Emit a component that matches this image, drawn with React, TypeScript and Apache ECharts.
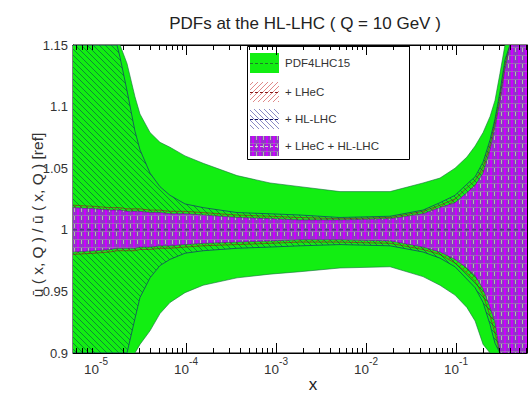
import React, { useEffect, useRef } from 'react';
import * as echarts from 'echarts';

// x grid (momentum fraction)
const X = [5.55e-6, 9.7e-6, 1.43e-5, 1.71e-5, 1.85e-5, 2.21e-5, 2.71e-5, 3.08e-5, 3.98e-5, 5.14e-5, 6.64e-5, 9.75e-5, 1.55e-4, 3.69e-4, 8.58e-4, 1.85e-3, 5.14e-3, 1.85e-2, 4.3e-2, 6.64e-2, 9.75e-2, 0.132, 0.163, 0.2, 0.239, 0.271, 0.308, 0.35, 0.398, 0.453, 0.615];

const pdf4lhcHi = [1.30, 1.24, 1.19, 1.165, 1.15, 1.135, 1.108, 1.094, 1.079, 1.071, 1.067, 1.06, 1.054, 1.044, 1.038, 1.035, 1.031, 1.031, 1.038, 1.042, 1.050, 1.059, 1.068, 1.079, 1.092, 1.105, 1.127, 1.16, 1.2, 1.25, 1.35];
const pdf4lhcLo = [0.72, 0.78, 0.83, 0.85, 0.86, 0.88, 0.90, 0.907, 0.918, 0.932, 0.941, 0.949, 0.955, 0.961, 0.964, 0.966, 0.969, 0.970, 0.962, 0.955, 0.947, 0.937, 0.926, 0.907, 0.89, 0.87, 0.84, 0.8, 0.76, 0.72, 0.65];

const lhecHi = [1.020, 1.019, 1.018, 1.018, 1.018, 1.017, 1.017, 1.017, 1.016, 1.016, 1.015, 1.015, 1.014, 1.012, 1.011, 1.010, 1.009, 1.010, 1.015, 1.020, 1.025, 1.034, 1.040, 1.051, 1.069, 1.087, 1.108, 1.134, 1.155, 1.19, 1.28];
const lhecLo = [0.980, 0.981, 0.982, 0.983, 0.983, 0.983, 0.983, 0.984, 0.984, 0.985, 0.985, 0.986, 0.987, 0.988, 0.989, 0.990, 0.990, 0.989, 0.984, 0.980, 0.973, 0.965, 0.958, 0.947, 0.930, 0.916, 0.895, 0.87, 0.84, 0.81, 0.74];

const hllhcHi = [1.29, 1.23, 1.175, 1.15, 1.14, 1.113, 1.08, 1.065, 1.046, 1.035, 1.028, 1.021, 1.018, 1.014, 1.013, 1.012, 1.010, 1.011, 1.016, 1.022, 1.028, 1.037, 1.043, 1.055, 1.073, 1.09, 1.112, 1.138, 1.16, 1.2, 1.3];
const hllhcLo = [0.73, 0.79, 0.835, 0.855, 0.87, 0.90, 0.928, 0.945, 0.961, 0.971, 0.976, 0.981, 0.983, 0.985, 0.986, 0.987, 0.988, 0.987, 0.982, 0.977, 0.970, 0.960, 0.953, 0.941, 0.923, 0.908, 0.89, 0.86, 0.83, 0.8, 0.72];

const bothHi = [1.018, 1.017, 1.016, 1.016, 1.016, 1.015, 1.015, 1.015, 1.014, 1.014, 1.013, 1.013, 1.012, 1.010, 1.009, 1.008, 1.008, 1.009, 1.013, 1.018, 1.022, 1.030, 1.036, 1.046, 1.065, 1.083, 1.104, 1.13, 1.15, 1.18, 1.25];
const bothLo = [0.982, 0.983, 0.984, 0.985, 0.985, 0.985, 0.985, 0.986, 0.986, 0.987, 0.987, 0.988, 0.989, 0.990, 0.991, 0.992, 0.992, 0.991, 0.986, 0.982, 0.976, 0.969, 0.963, 0.952, 0.937, 0.925, 0.90, 0.88, 0.85, 0.82, 0.75];

const central = [1, 1];

const X_MIN = 5.55e-6;
const X_MAX = 0.615;
const Y_MIN = 0.9;
const Y_MAX = 1.15;
const Y_TICK = 0.05;

const MINOR_MANTISSA = [2, 3, 4, 5, 6, 7, 8, 9];
const DECADES = [1e-6, 1e-5, 1e-4, 1e-3, 1e-2, 1e-1];

const legendLabels = ['PDF4LHC15', '+ LHeC', '+ HL-LHC', '+ LHeC + HL-LHC'];
const TITLE = 'PDFs at the HL-LHC ( Q = 10 GeV )';
const Y_NAME = 'ū ( x, Q ) / ū ( x, Q ) [ref]';
const X_NAME = 'x';

const FONT = '"Liberation Sans", Arial, Helvetica, sans-serif';
const GREEN = '#12ee12';

function hatch(color: string, dir: 'back' | 'fwd', size = 6, lw = 1, bg?: string) {
  const c = document.createElement('canvas');
  c.width = size;
  c.height = size;
  const g = c.getContext('2d')!;
  if (bg) {
    g.fillStyle = bg;
    g.fillRect(0, 0, size, size);
  }
  g.strokeStyle = color;
  g.lineWidth = lw;
  g.beginPath();
  if (dir === 'back') {
    g.moveTo(-1, -1); g.lineTo(size + 1, size + 1);
    g.moveTo(-1, size - 1); g.lineTo(1, size + 1);
    g.moveTo(size - 1, -1); g.lineTo(size + 1, 1);
  } else {
    g.moveTo(-1, size + 1); g.lineTo(size + 1, -1);
    g.moveTo(-1, 1); g.lineTo(1, -1);
    g.moveTo(size - 1, size + 1); g.lineTo(size + 1, size - 1);
  }
  g.stroke();
  return { image: c, repeat: 'repeat' } as any;
}

function purplePattern() {
  const w = 7, h = 8;
  const c = document.createElement('canvas');
  c.width = w;
  c.height = h;
  const g = c.getContext('2d')!;
  g.fillStyle = '#9630cc';
  g.fillRect(0, 0, w, h);
  g.fillStyle = '#cc00ff';
  g.fillRect(0, 0, 2, h);
  g.fillStyle = 'rgba(170,205,160,0.95)';
  g.fillRect(4, 0, 1, 4);
  g.fillStyle = 'rgba(150,180,150,0.45)';
  g.fillRect(0, 7, w, 1);
  return { image: c, repeat: 'repeat' } as any;
}

function bandSeries(name: string, lo: number[], hi: number[], fill: any, stroke: string, z: number, lw = 0.9) {
  return {
    type: 'custom',
    name,
    coordinateSystem: 'cartesian2d',
    clip: true,
    z,
    silent: true,
    data: X.map((x, i) => [x, lo[i], hi[i]]),
    encode: { x: 0, y: [1, 2] },
    renderItem: (params: any, api: any) => {
      if (params.dataIndex !== 0) return null;
      const cs = params.coordSys;
      const rect = { x: cs.x, y: cs.y, width: cs.width, height: cs.height };
      const n = params.dataInsideLength;
      const up: number[][] = [];
      const dn: number[][] = [];
      for (let i = 0; i < n; i++) {
        const xv = api.value(0, i);
        up.push(api.coord([xv, api.value(2, i)]));
        dn.push(api.coord([xv, api.value(1, i)]));
      }
      const poly = echarts.graphic.clipPointsByRect(up.concat(dn.slice().reverse()), rect);
      return {
        type: 'group',
        children: [
          { type: 'polygon', shape: { points: poly }, style: { fill, stroke: 'none' } },
          { type: 'polyline', shape: { points: echarts.graphic.clipPointsByRect(up, rect) }, style: { fill: 'none', stroke, lineWidth: lw } },
          { type: 'polyline', shape: { points: echarts.graphic.clipPointsByRect(dn, rect) }, style: { fill: 'none', stroke, lineWidth: lw } },
        ],
      };
    },
  };
}

export default function App() {
  const ref = useRef<HTMLDivElement>(null);
  useEffect(() => {
    document.body.style.margin = '0';
    const chart = echarts.init(ref.current!, null, { renderer: 'svg' });

    const greenFill = GREEN;
    const redHatch = hatch('rgba(190,20,20,0.55)', 'fwd', 6, 1);
    const blueHatch = hatch('rgba(10,60,80,0.55)', 'back', 6, 1);
    const purple = purplePattern();

    const minorTicks: number[][] = [];
    DECADES.forEach((d) => MINOR_MANTISSA.forEach((m) => {
      const v = m * d;
      if (v > X_MIN && v < X_MAX) minorTicks.push([v, 1]);
    }));

    const xLabel = (v: number) => {
      const e = Math.log10(v);
      const r = Math.round(e);
      if (Math.abs(e - r) > 0.01) return '';
      return '{b|10}{s|' + r + '}';
    };

    const legendX = 247, legendY = 46, legendW = 162, legendH = 113;
    const rowsY = [63, 92, 119, 146];
    const swFills = [greenFill, hatch('rgba(200,40,40,0.55)', 'fwd', 5, 1), hatch('rgba(40,40,150,0.55)', 'back', 5, 1), purple];
    const dashColors = ['#1d7a2a', '#8a1a1a', '#101060', 'rgba(220,220,220,0.9)'];

    const legendChildren: any[] = [
      { type: 'rect', shape: { x: legendX + 0.5, y: legendY + 0.5, width: legendW, height: legendH }, style: { fill: '#fff', stroke: '#000', lineWidth: 1 } },
    ];
    legendLabels.forEach((lab, i) => {
      const cy = rowsY[i];
      legendChildren.push({ type: 'rect', shape: { x: 250, y: cy - 10, width: 29, height: 20 }, style: { fill: swFills[i] } });
      legendChildren.push({ type: 'line', shape: { x1: 250, y1: cy + 0.5, x2: 279, y2: cy + 0.5 }, style: { stroke: dashColors[i], lineWidth: 1, lineDash: [3, 2] } });
      legendChildren.push({ type: 'text', style: { x: 285, y: cy, text: lab, fill: '#333', font: '11.5px ' + FONT, verticalAlign: 'middle' } });
    });

    const option: any = {
      animation: false,
      backgroundColor: '#fff',
      title: {
        text: TITLE,
        left: 300,
        textAlign: 'center',
        top: 10,
        textStyle: { fontFamily: FONT, fontSize: 17, fontWeight: 'normal', color: '#222' },
      },
      grid: { left: 73, right: 2, top: 45, bottom: 40, show: true, borderColor: '#000', borderWidth: 1, backgroundColor: 'transparent', outerBoundsMode: 'none', containLabel: false },
      xAxis: [
        {
          type: 'log', min: X_MIN, max: X_MAX, logBase: 10,
          name: X_NAME, nameLocation: 'middle', nameGap: 23, nameMoveOverlap: false,
          nameTextStyle: { fontFamily: FONT, fontSize: 17, color: '#222', padding: [0, 0, 0, 26] },
          axisLine: { show: true, lineStyle: { color: '#000', width: 1 } },
          axisTick: { show: true, inside: true, length: 10, lineStyle: { color: '#000' } },
          minorTick: { show: false },
          splitLine: { show: false },
          axisLabel: {
            show: true, margin: 3, showMinLabel: false, showMaxLabel: false,
            formatter: xLabel,
            rich: {
              b: { fontFamily: FONT, fontSize: 13.5, color: '#333', lineHeight: 20, verticalAlign: 'bottom' },
              s: { fontFamily: FONT, fontSize: 10, color: '#333', lineHeight: 8, verticalAlign: 'top' },
            },
          },
        },
        {
          type: 'log', min: X_MIN, max: X_MAX, logBase: 10, position: 'top',
          axisLine: { show: true, lineStyle: { color: '#000', width: 1 } },
          axisTick: { show: true, inside: true, length: 10, lineStyle: { color: '#000' } },
          axisLabel: { show: false },
          splitLine: { show: false },
        },
      ],
      yAxis: [
        {
          type: 'value', min: Y_MIN, max: Y_MAX, interval: Y_TICK,
          axisLine: { show: true, lineStyle: { color: '#000', width: 1 } },
          axisTick: { show: true, inside: true, length: 6, lineStyle: { color: '#000' } },
          minorTick: { show: true, splitNumber: 3, length: 3, lineStyle: { color: '#000' } },
          splitLine: { show: false },
          axisLabel: {
            margin: 5, fontFamily: FONT, fontSize: 13, color: '#333',
            formatter: (v: number) => String(+v.toFixed(2)),
          },
        },
        {
          type: 'value', min: Y_MIN, max: Y_MAX, interval: Y_TICK, position: 'right',
          axisLine: { show: true, lineStyle: { color: '#000', width: 1 } },
          axisTick: { show: true, inside: true, length: 6, lineStyle: { color: '#000' } },
          minorTick: { show: true, splitNumber: 3, length: 3, lineStyle: { color: '#000' } },
          splitLine: { show: false },
          axisLabel: { show: false },
        },
      ],
      series: [
        bandSeries('PDF4LHC15', pdf4lhcLo, pdf4lhcHi, greenFill, 'rgba(20,110,60,0.75)', 1, 0.8),
        bandSeries('+ LHeC', lhecLo, lhecHi, redHatch, 'rgba(150,30,30,0.8)', 2, 0.8),
        bandSeries('+ HL-LHC', hllhcLo, hllhcHi, blueHatch, 'rgba(20,70,100,0.9)', 3, 0.9),
        bandSeries('+ LHeC + HL-LHC', bothLo, bothHi, purple, 'rgba(90,30,130,0.7)', 4, 0.8),
        {
          type: 'line', name: 'central', z: 5, silent: true, symbol: 'none',
          data: [[X_MIN, central[0]], [X_MAX, central[1]]],
          lineStyle: { color: '#2a4a5a', width: 1, type: [4, 3] },
        },
        {
          type: 'custom', name: 'minor', z: 6, silent: true, clip: false,
          data: minorTicks,
          renderItem: (params: any, api: any) => {
            const cs = params.coordSys;
            const p = api.coord([api.value(0), api.value(1)]);
            const xx = Math.round(p[0]) + 0.5;
            const top = cs.y, bot = cs.y + cs.height;
            return {
              type: 'group',
              children: [
                { type: 'line', shape: { x1: xx, y1: bot, x2: xx, y2: bot - 5 }, style: { stroke: '#000', lineWidth: 1 } },
                { type: 'line', shape: { x1: xx, y1: top, x2: xx, y2: top + 5 }, style: { stroke: '#000', lineWidth: 1 } },
              ],
            };
          },
        },
      ],
      graphic: [
        { type: 'group', z: 100, children: legendChildren },
        {
          type: 'text', z: 100, x: 37, y: 215, rotation: Math.PI / 2,
          style: { text: Y_NAME, fill: '#333', font: '15.5px ' + FONT, align: 'center', verticalAlign: 'middle' },
        },
      ],
    };
    chart.setOption(option);
    return () => chart.dispose();
  }, []);
  return <div ref={ref} style={{ width: 529, height: 393 }} />;
}
